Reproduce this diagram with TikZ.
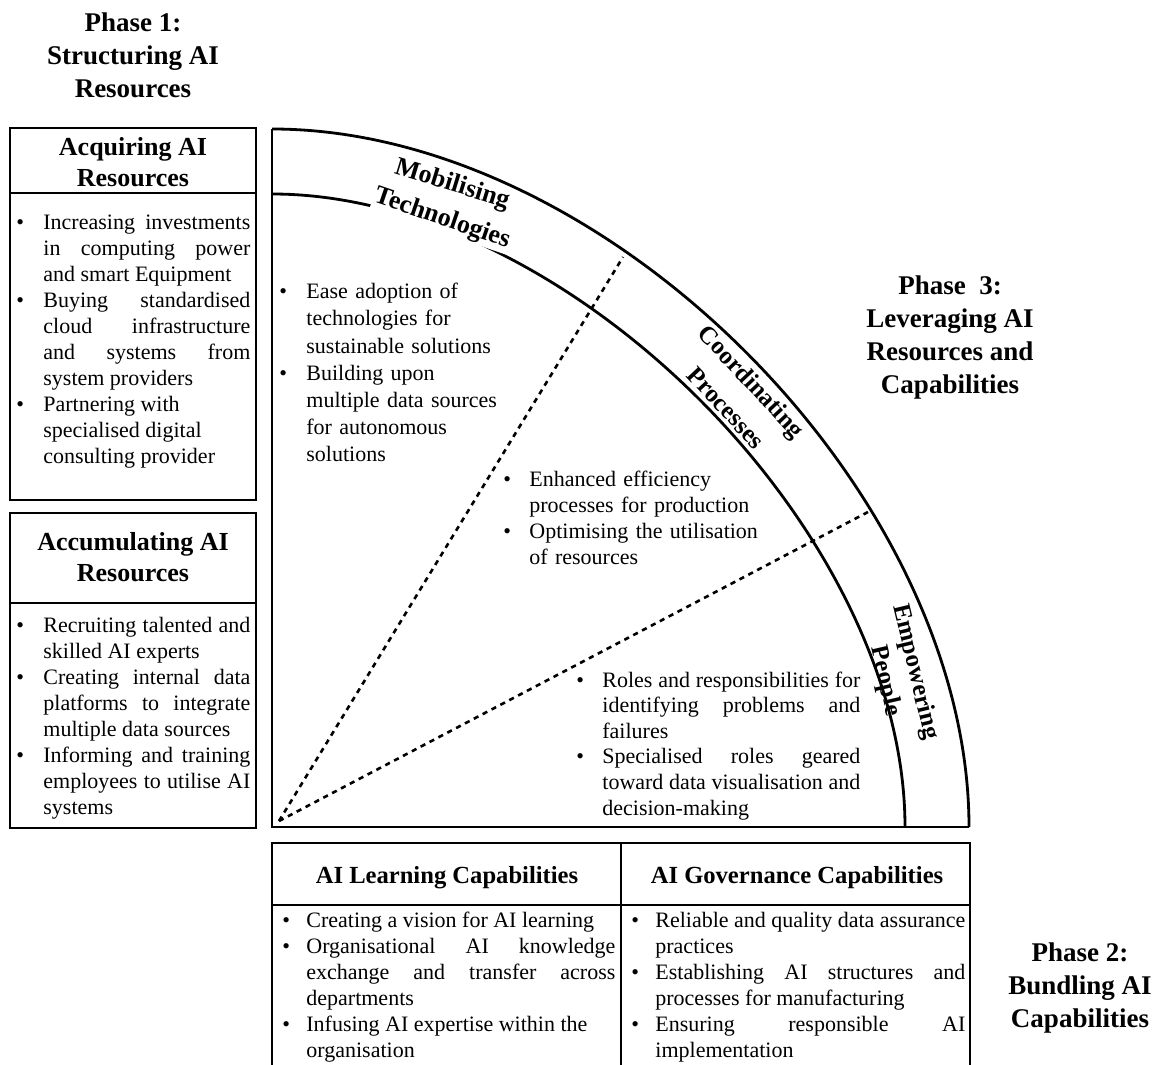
\documentclass[tikz,border=0pt]{standalone}
\usepackage{fontspec}
\setmainfont{Liberation Serif}
\newlength\bulind
\newcommand{\bodyfont}{\fontsize{11pt}{13pt}\selectfont}
\newcommand{\headfont}{\fontsize{13pt}{15.5pt}\selectfont\bfseries}
\newcommand{\bandfont}{\fontsize{12.5pt}{15pt}\selectfont\bfseries}
\newcommand{\capfont}{\fontsize{12.3pt}{14pt}\selectfont\bfseries}
\newcommand{\phasefont}{\fontsize{13.5pt}{16.5pt}\selectfont\bfseries}
\newcommand{\bitem}{\par\noindent\hangindent=\bulind\hangafter=1\makebox[\bulind][l]{\textbullet}}
\hbadness=10000
\hyphenpenalty=10000
\exhyphenpenalty=10000
\tikzset{
  frame/.style={line width=1.4pt},
  spoke/.style={line width=1.3pt, dash pattern=on 2.6pt off 2.4pt},
  heading/.style={font=\headfont, align=center, inner sep=0pt},
  phase/.style={font=\phasefont, align=center, inner sep=0pt},
  bandtxt/.style={font=\bandfont, inner sep=0.5pt},
  bullets/.style={font=\bodyfont, execute at begin node=\setlength\bulind{#1}, anchor=north west, inner sep=0pt, align=justify},
}
\begin{document}
\begin{tikzpicture}[x=0.5pt,y=-0.5pt]
    \useasboundingbox (0,0) rectangle (1158,1065);

    % phase labels
    \node[phase] (ph1) at (133,55) {Phase 1:\\Structuring AI\\Resources};
    \node[phase] (ph3) at (950,338) {Phase\ \ 3:\\Leveraging AI\\Resources and\\Capabilities};
    \node[phase] (ph2) at (1080,988) {Phase 2:\\Bundling AI\\Capabilities};

    % structuring boxes
    \draw[frame] (10,128) rectangle (256,500);
    \draw[frame] (10,193) -- (256,193);
    \node[heading] (acqhead) at (133,162) {Acquiring AI\\Resources};
    \node[bullets=13.5pt, text width=117pt] (acqlist) at (16,203) {%
      \bitem Increasing investments\linebreak in computing power\linebreak and smart Equipment
      \bitem Buying standardised\linebreak cloud infrastructure\linebreak and systems from\linebreak system providers
      \bitem Partnering with\newline specialised digital\newline consulting provider\par};

    \draw[frame] (10,513) rectangle (256,828);
    \draw[frame] (10,603) -- (256,603);
    \node[heading] (acchead) at (133,557) {Accumulating AI\\Resources};
    \node[bullets=13.5pt, text width=117pt] (acclist) at (16,606) {%
      \bitem Recruiting talented and\linebreak skilled AI experts
      \bitem Creating internal data\linebreak platforms to integrate\linebreak multiple data sources
      \bitem Informing and training\linebreak employees to utilise AI\linebreak systems\par};

    % leveraging quarter
    \coordinate (O) at (272,827);
    \draw[frame] (272,129) -- (O) -- (969,827);
    \draw[frame] (272,129) .. controls (607,129) and (969,492) .. (969,827);
    \draw[frame] (272,194) .. controls (568,194) and (905,531) .. (905,827);
    \coordinate (s0) at (279,821);
    \coordinate (s1) at (623,257);
    \coordinate (s2) at (868,512);
    \draw[spoke] (s0) -- (s1);
    \draw[spoke] (s0) -- (s2);

    \node[bandtxt, font=\headfont, rotate=-17] (mob1) at (452,185) {Mobilising};
    \node[bandtxt, font=\headfont, rotate=-19, fill=white] (mob2) at (442,219) {Technologies};
    \node[bandtxt, rotate=-47] (coo1) at (750,383) {Coordinating};
    \node[bandtxt, rotate=-47] (coo2) at (726,408) {Processes};
    \node[bandtxt, rotate=-76.5] (emp1) at (915,672) {Empowering};
    \node[bandtxt, rotate=-77] (emp2) at (885,681) {People};

    \node[bullets=13.5pt, text width=120pt, align=left, font=\fontsize{11pt}{13.6pt}\selectfont] (moblist) at (279,271) {%
      \bitem Ease adoption of\newline technologies for\newline sustainable solutions
      \bitem Building upon\newline multiple data sources\newline for autonomous\newline solutions\par};
    \node[bullets=13pt, text width=140pt, align=left] (coolist) at (503,460) {%
      \bitem Enhanced efficiency\newline processes for production
      \bitem Optimising the utilisation\newline of resources\par};
    \node[bullets=13pt, text width=142pt, font=\fontsize{11pt}{12.8pt}\selectfont] (emplist) at (576,661) {%
      \bitem Roles and responsibilities for\linebreak identifying problems and\linebreak failures
      \bitem Specialised roles geared\linebreak toward data visualisation and\linebreak decision-making\par};

    % bundling table
    \draw[frame] (272,1065) -- (272,843) -- (970,843) -- (970,1065);
    \draw[frame] (272,905) -- (970,905);
    \draw[frame] (621,843) -- (621,1065);
    \node[heading, font=\capfont] (learnhead) at (447,878) {AI Learning Capabilities};
    \node[heading, font=\capfont] (govhead) at (797,878) {AI Governance Capabilities};
    \node[bullets=12pt, text width=166.5pt] (learnlist) at (282,901) {%
      \bitem Creating a vision for AI learning
      \bitem Organisational AI knowledge\linebreak exchange and transfer across\linebreak departments
      \bitem Infusing AI expertise within the\newline organisation\par};
    \node[bullets=12pt, text width=167pt] (govlist) at (631,901) {%
      \bitem Reliable and quality data assurance\linebreak practices
      \bitem Establishing AI structures and\linebreak processes for manufacturing
      \bitem Ensuring responsible AI\linebreak implementation\par};
\end{tikzpicture}
\end{document}
